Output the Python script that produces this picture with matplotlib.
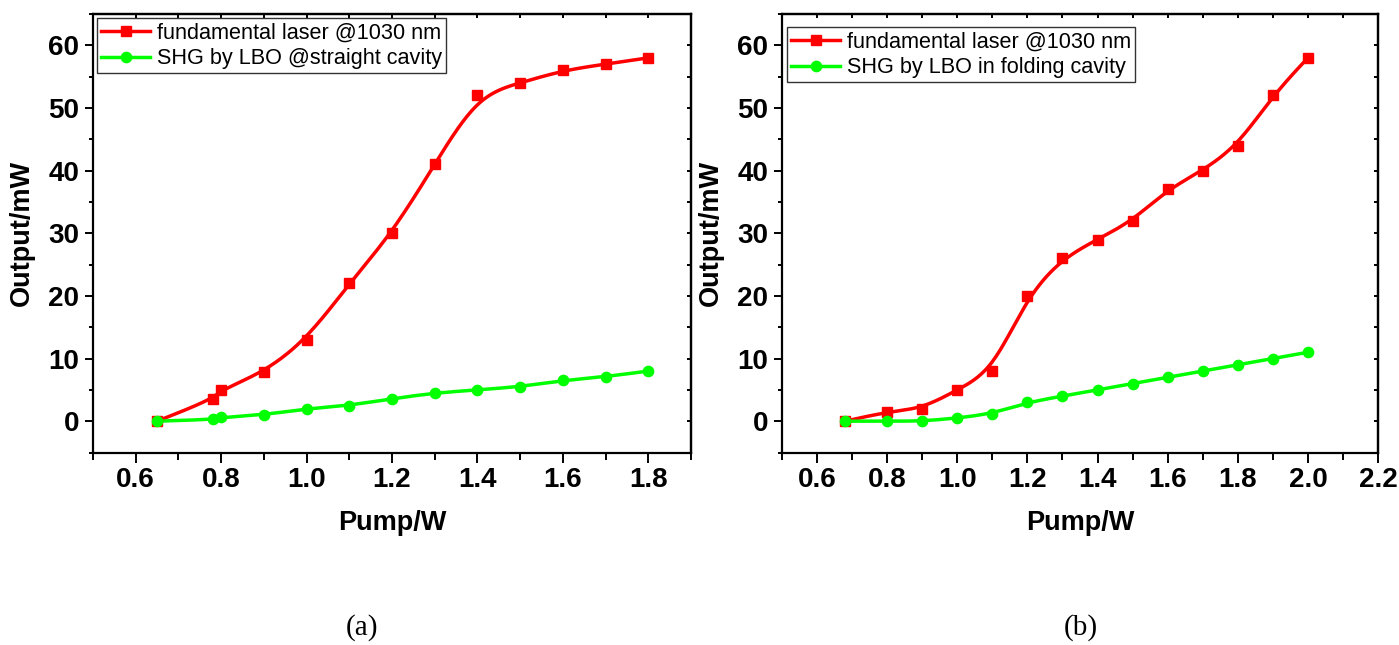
import numpy as np
import matplotlib
matplotlib.use("Agg")
import matplotlib.pyplot as plt
from matplotlib.ticker import MultipleLocator

plt.rcParams['font.family'] = ['Liberation Sans', 'DejaVu Sans']

# ---- data ----
pump_a = [0.65, 0.78, 0.80, 0.90, 1.00, 1.10, 1.20, 1.30, 1.40, 1.50, 1.60, 1.70, 1.80]
fund_a = [0.0, 3.5, 5.0, 7.8, 13.0, 22.0, 30.0, 41.0, 52.0, 54.0, 56.0, 57.0, 58.0]
shg_a = [0.0, 0.27, 0.6, 1.0, 2.0, 2.5, 3.6, 4.5, 5.0, 5.5, 6.5, 7.1, 8.0]

pump_b = [0.68, 0.80, 0.90, 1.00, 1.10, 1.20, 1.30, 1.40, 1.50, 1.60, 1.70, 1.80, 1.90, 2.00]
fund_b = [0.0, 1.5, 2.0, 5.0, 8.0, 20.0, 26.0, 29.0, 32.0, 37.0, 40.0, 44.0, 52.0, 58.0]
shg_b = [0.0, 0.0, 0.0, 0.5, 1.2, 3.0, 4.0, 5.0, 6.0, 7.0, 8.0, 9.0, 10.0, 11.0]

labels_a = ["fundamental laser @1030 nm", "SHG by LBO @straight cavity"]
labels_b = ["fundamental laser @1030 nm", "SHG by LBO in folding cavity"]
captions = ["(a)", "(b)"]
xlabel = "Pump/W"
ylabel = "Output/mW"

RED = "#ff0000"
GREEN = "#00ff00"


def bspline(x, y, n=30):
    """Uniform cubic B-spline using the data points as control points (clamped ends)."""
    P = np.column_stack([x, y]).astype(float)
    P = np.vstack([P[0], P[0], P, P[-1], P[-1]])
    t = np.linspace(0, 1, n)
    b0 = (1 - t) ** 3 / 6
    b1 = (3 * t ** 3 - 6 * t ** 2 + 4) / 6
    b2 = (-3 * t ** 3 + 3 * t ** 2 + 3 * t + 1) / 6
    b3 = t ** 3 / 6
    out = []
    for i in range(len(P) - 3):
        seg = (np.outer(b0, P[i]) + np.outer(b1, P[i + 1]) +
               np.outer(b2, P[i + 2]) + np.outer(b3, P[i + 3]))
        out.append(seg)
    out = np.vstack(out)
    return out[:, 0], out[:, 1]


W, H = 1399, 645
fig = plt.figure(figsize=(W / 100, H / 100), dpi=100)

ax_a = fig.add_axes([93 / W, (H - 452.5) / H, 598 / W, 438.5 / H])
ax_b = fig.add_axes([782 / W, (H - 452.5) / H, 596 / W, 438.5 / H])

panels = [
    (ax_a, pump_a, fund_a, shg_a, labels_a, (0.5, 1.9), (97 - 93) / 598, (452.5 - 18) / 438.5),
    (ax_b, pump_b, fund_b, shg_b, labels_b, (0.5, 2.2), (787 - 782) / 596, (452.5 - 27) / 438.5),
]

for ax, px, fy, sy, labs, xl, lx, ly in panels:
    for yv, col, mk, lab in [(fy, RED, 's', labs[0]), (sy, GREEN, 'o', labs[1])]:
        cx, cy = bspline(px, yv)
        ax.plot(cx, cy, color=col, lw=2.5, zorder=2)
        ax.plot(px, yv, linestyle='none', marker=mk, color=col, ms=7.4, zorder=3)
        ax.plot([], [], color=col, lw=2.5, marker=mk, ms=7.4, label=lab)
    ax.set_xlim(*xl)
    ax.set_ylim(-5, 65)
    ax.xaxis.set_major_locator(MultipleLocator(0.2))
    ax.xaxis.set_minor_locator(MultipleLocator(0.1))
    ax.yaxis.set_major_locator(MultipleLocator(10))
    ax.yaxis.set_minor_locator(MultipleLocator(5))
    ax.xaxis.set_major_formatter(matplotlib.ticker.FormatStrFormatter('%.1f'))
    for s in ax.spines.values():
        s.set_linewidth(1.6)
    ax.tick_params(axis='both', which='both', width=1.4, labelsize=20)
    ax.tick_params(axis='x', which='major', direction='out', length=7.5, pad=3)
    ax.tick_params(axis='x', which='minor', direction='out', length=5)
    ax.tick_params(axis='y', which='major', direction='out', length=6, pad=4)
    ax.tick_params(axis='y', which='minor', direction='out', length=3)
    for lbl in ax.get_xticklabels() + ax.get_yticklabels():
        lbl.set_fontweight('bold')
    # mirrored ticks on top / right
    sec_x = ax.secondary_xaxis('top')
    sec_x.xaxis.set_major_locator(MultipleLocator(0.2))
    sec_x.xaxis.set_minor_locator(MultipleLocator(0.1))
    sec_x.tick_params(which='both', direction='in', length=3, width=1.4, labeltop=False)
    sec_x.spines['top'].set_linewidth(1.6)
    sec_y = ax.secondary_yaxis('right')
    sec_y.yaxis.set_major_locator(MultipleLocator(10))
    sec_y.yaxis.set_minor_locator(MultipleLocator(5))
    sec_y.tick_params(which='both', direction='in', length=3, width=1.4, labelright=False)
    sec_y.spines['right'].set_linewidth(1.6)

    ax.set_xlabel(xlabel, fontsize=19.5, fontweight='bold')
    ax.xaxis.set_label_coords(0.5, -0.13)
    ax.xaxis.label.set_verticalalignment('top')
    ax.set_ylabel(ylabel, fontsize=19.5, fontweight='bold')
    ax.yaxis.set_label_coords(-0.097, 0.5)

    leg = ax.legend(loc='upper left', bbox_to_anchor=(lx, ly), borderaxespad=0,
                    fontsize=15.6, frameon=True, fancybox=False, framealpha=1,
                    edgecolor='#333333', handlelength=2.25, handletextpad=0.3,
                    labelspacing=0.22, borderpad=0.2, markerscale=1.0)
    leg.get_frame().set_linewidth(1.0)

fig.text(362 / W, (H - 634.5) / H, captions[0], family=['Liberation Serif'], fontsize=21,
         ha='center', va='baseline')
fig.text(1081 / W, (H - 634.5) / H, captions[1], family=['Liberation Serif'], fontsize=21,
         ha='center', va='baseline')

fig.savefig("out.png", dpi=100)
